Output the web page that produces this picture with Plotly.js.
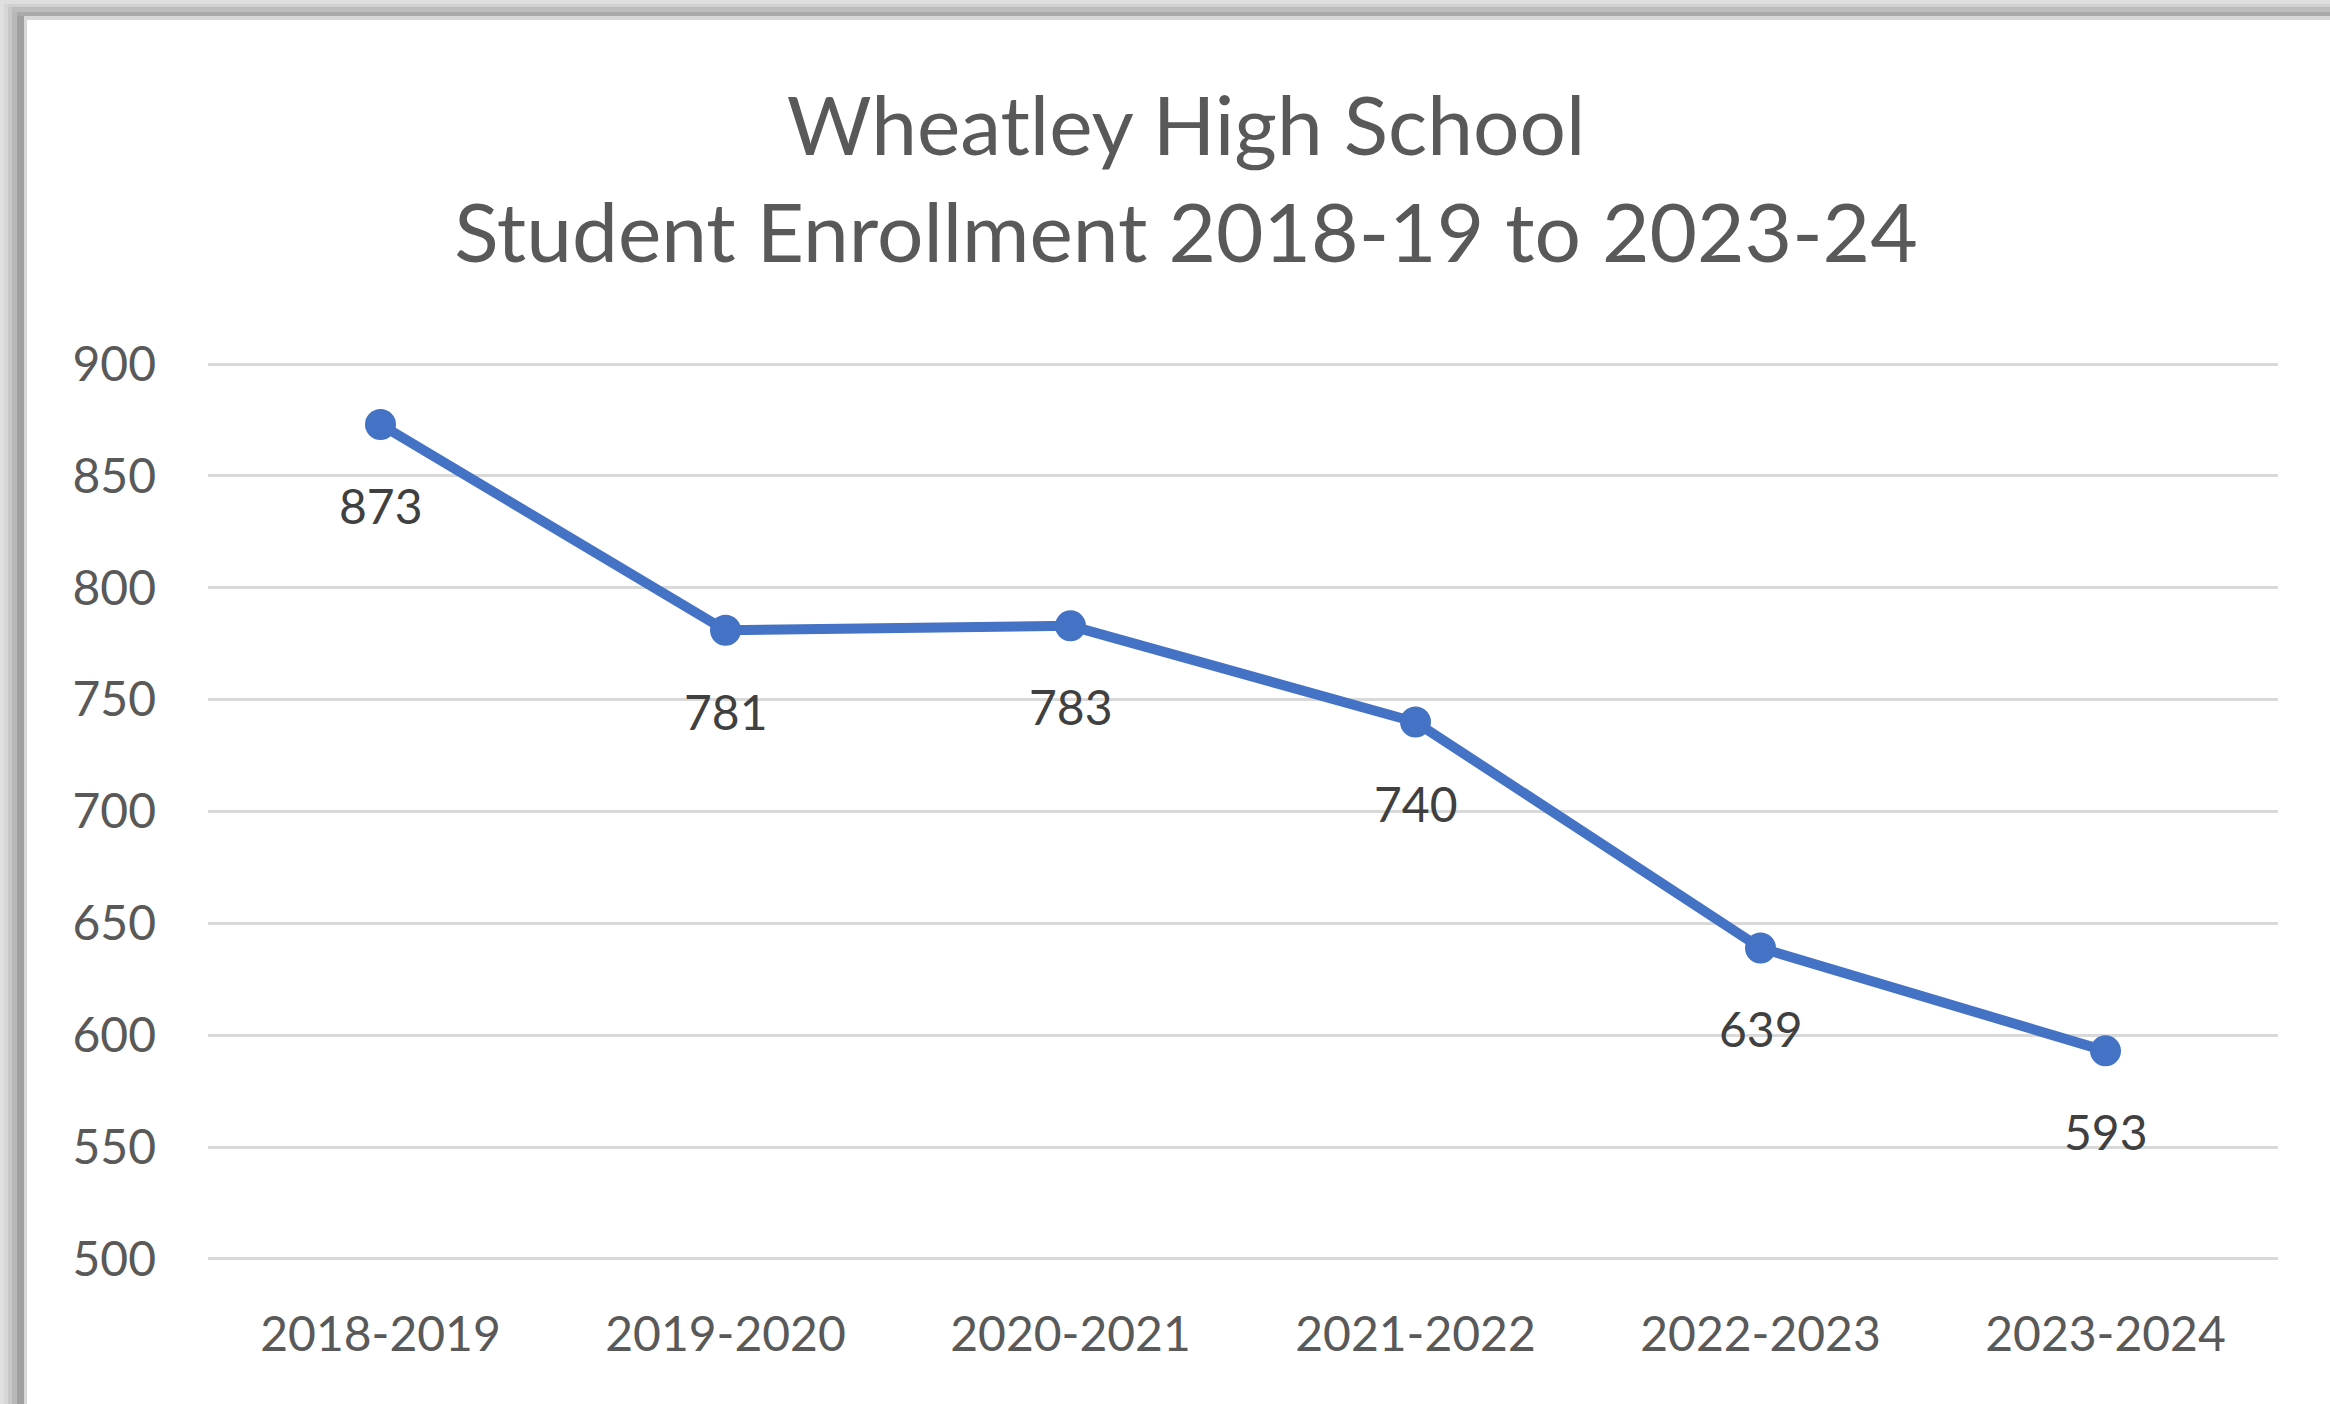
<!DOCTYPE html>
<html>
<head>
<meta charset="utf-8">
<script src="https://cdn.plot.ly/plotly-3.0.1.min.js"></script>
<style>
  html, body { margin: 0; padding: 0; background: #ffffff; }
  #chart { width: 2330px; height: 1404px; }
</style>
</head>
<body>
<div id="chart"></div>
<script>
// ---- data ----
const schoolYears = ["2018-2019", "2019-2020", "2020-2021", "2021-2022", "2022-2023", "2023-2024"];
const enrollment = [873, 781, 783, 740, 639, 593];
const yTickValues = [500, 550, 600, 650, 700, 750, 800, 850, 900];
const titleLines = ["Wheatley High School", "Student Enrollment 2018-19 to 2023-24"];

// ---- layout geometry (pixels) ----
const W = 2330, H = 1404;
const M = { l: 208, r: 52, t: 363, b: 144 };
const plotW = W - M.l - M.r, plotH = H - M.t - M.b;
const px2x = p => (p - M.l) / plotW;
const py2y = p => (H - M.b - p) / plotH;

const FONT = "Lato, 'Open Sans', sans-serif";

// gray frame (top and left) as paper shapes
function band(x0, y0, x1, y1, color) {
  return { type: "rect", xref: "paper", yref: "paper", layer: "above",
    x0: px2x(x0), x1: px2x(x1), y0: py2y(y1), y1: py2y(y0),
    fillcolor: color, line: { width: 0 } };
}
const shapes = [
  // top band
  band(0, 0, W, 4, "#dedede"),
  band(0, 4, W, 7, "#d0d0d0"),
  band(0, 7, W, 12, "#bdbdbd"),
  band(0, 12, W, 16, "#aaaaaa"),
  band(0, 16, W, 20, "#d8d8d8"),
  // left band
  band(0, 0, 4, H, "#e0e0e0"),
  band(4, 4, 8, H, "#d6d6d6"),
  band(8, 7, 12, H, "#c8c8c8"),
  band(12, 12, 17, H, "#b8b8b8"),
  band(17, 16, 24, H, "#a0a0a0"),
  band(24, 18, 27, H, "#d8d8d8")
];

const annotations = schoolYears.map((c, i) => ({
  x: c, y: enrollment[i], xref: "x", yref: "y",
  text: String(enrollment[i]), showarrow: false,
  yshift: -81, yanchor: "middle",
  font: { family: FONT, size: 48, color: "#404040" }
}));

const trace = {
  type: "scatter", mode: "lines+markers",
  x: schoolYears, y: enrollment,
  line: { color: "#4472C4", width: 10 },
  marker: { color: "#4472C4", size: 31 },
  hoverinfo: "skip", showlegend: false
};

const layout = {
  width: W, height: H,
  margin: M,
  paper_bgcolor: "#ffffff", plot_bgcolor: "#ffffff",
  title: {
    text: titleLines.join("<br>"),
    font: { family: FONT, size: 82, color: "#595959" },
    xref: "container", yref: "container",
    x: 0.509, xanchor: "center",
    y: 1 - 155 / H, yanchor: "middle"
  },
  xaxis: {
    type: "category", range: [-0.5, 5.5],
    showgrid: false, zeroline: false, showline: false, ticks: "",
    ticklabelstandoff: 42,
    tickfont: { family: FONT, size: 48, color: "#595959" }
  },
  yaxis: {
    range: [499.5, 900.5], tickvals: yTickValues,
    showgrid: true, gridcolor: "#d9d9d9", gridwidth: 3,
    zeroline: false, showline: false, ticks: "",
    ticklabelstandoff: 51,
    tickfont: { family: FONT, size: 48, color: "#595959" }
  },
  shapes: shapes,
  annotations: annotations
};

Plotly.newPlot("chart", [trace], layout, { staticPlot: true, displayModeBar: false });
</script>
</body>
</html>
